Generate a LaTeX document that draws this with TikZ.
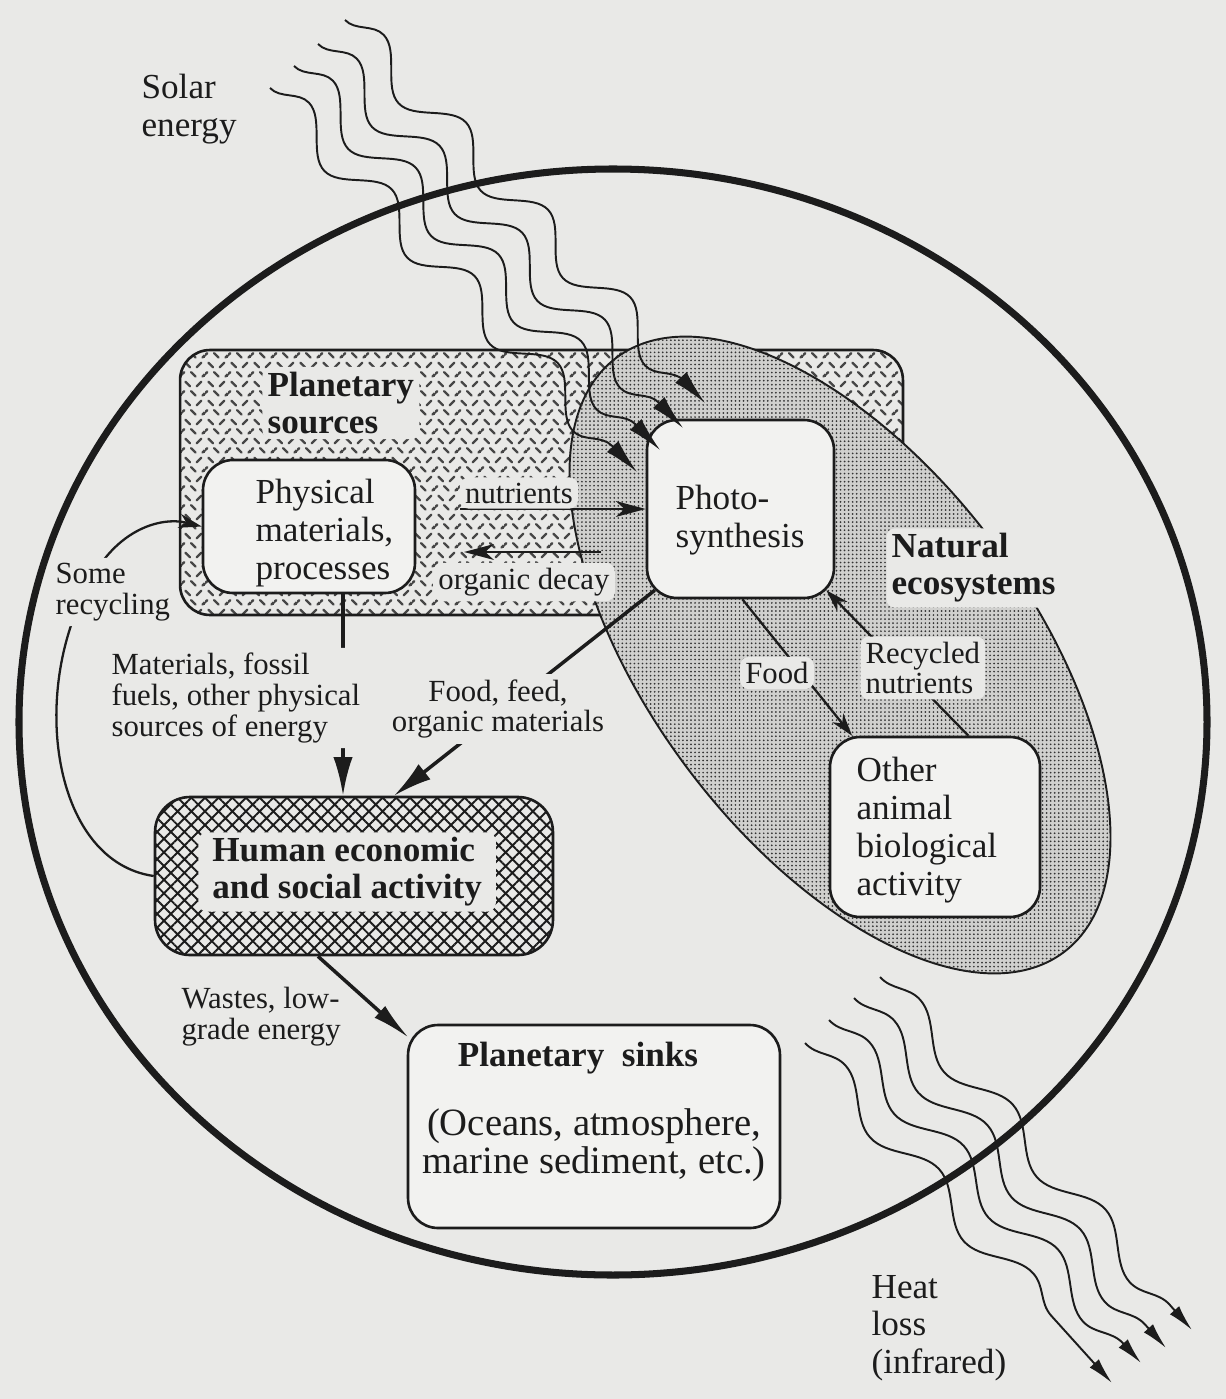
\documentclass[tikz,border=0pt]{standalone}
\usepackage{fontspec}
\setmainfont{Liberation Serif}
\usetikzlibrary{arrows.meta,decorations.pathmorphing,patterns,patterns.meta,calc}
\definecolor{bg}{RGB}{233,233,231}
\definecolor{boxbg}{RGB}{242,242,240}
\definecolor{ink}{RGB}{28,28,28}
\definecolor{dashcol}{RGB}{70,70,70}
\definecolor{stip}{RGB}{208,208,206}

\tikzdeclarepattern{
  name=plate,
  type=colored,
  bottom left={(0pt,0pt)},
  top right={(13pt,11pt)},
  tile size={(13pt,11pt)},
  code={
    \tikzset{x=1pt,y=1pt}
    \begin{scope}[draw=dashcol,line width=1.35pt,line cap=round]
      % upper row
      \draw (1.95,9.55) -- (4.55,6.95);
      \draw (8.45,6.95) -- (11.05,9.55);
      % lower row, staggered by half a column
      \draw (-1.3,1.45) -- (1.3,4.05);
      \draw (11.7,1.45) -- (14.3,4.05);
      \draw (5.2,4.05) -- (7.8,1.45);
    \end{scope}
  }
}

\begin{document}
\begin{tikzpicture}[x=0.02cm,y=-0.02cm,
  smalltxt/.style={text=ink,font=\fontsize{17.5}{17.5}\selectfont,align=left,inner sep=3pt},
  smallc/.style={smalltxt,align=center},
  bigtxt/.style={text=ink,font=\fontsize{20}{21.5}\selectfont,align=left,inner sep=3pt},
  boldtxt/.style={text=ink,font=\bfseries\fontsize{20}{21}\selectfont,align=left,inner sep=3pt},
  clearbg/.style={fill=bg,rounded corners=5pt},
  wbox/.style={draw=ink,line width=1.5pt,fill=boxbg,rounded corners=0.6cm,inner sep=0pt},
  plbox/.style={draw=ink,line width=1.5pt,pattern=plate,rounded corners=0.6cm,inner sep=0pt},
  hbox/.style={draw=ink,line width=1.5pt,fill=bg,postaction={pattern={Hatch[angle=45,distance=5.5pt,line width=1.1pt]},pattern color=ink},rounded corners=0.7cm,inner sep=0pt},
  ecoreg/.style={draw=ink,line width=1.1pt,fill=stip,postaction={pattern={Dots[distance=2.3pt,radius=0.55pt]},pattern color=black!80}},
  conn/.style={draw=ink,line width=1.3pt},
  thk/.style={draw=ink,line width=2pt},
  bighead/.style={-{Latex[length=22pt,width=11pt]}},
  midhead/.style={-{Stealth[length=17pt,width=9pt,inset=5pt]}},
  smallhead/.style={-{Stealth[length=13pt,width=8pt,inset=4pt]}},
  solwave/.style={draw=ink,line width=1.1pt,decorate,decoration={snake,amplitude=0.36cm,segment length=2.4cm,post length=0.6cm}},
  heatwave/.style={draw=ink,line width=1.1pt,decorate,decoration={snake,amplitude=0.3cm,segment length=2.8cm,post length=0.5cm}}
]
\fill[bg] (0,0) rectangle (1226,1399);
\useasboundingbox (0,0) rectangle (1226,1399);

% planet
\draw[ink,line width=4pt] (613,722) ellipse [x radius=594,y radius=553];

% planetary sources region
\node[plbox,minimum width=14.46cm,minimum height=5.3cm] (plan) at (541.5,482.5) {};
% natural ecosystems region
\path[ecoreg,rotate around={-53:(840,655)}] (840,655) ellipse [x radius=372,y radius=190];

\node[boldtxt,clearbg,anchor=west] (planT) at (262,403) {Planetary\\sources};

% boxes
\node[wbox,minimum width=4.24cm,minimum height=2.66cm] (phys) at (309,526.5) {};
\node[wbox,minimum width=3.74cm,minimum height=3.56cm] (photo) at (740.5,509) {};
\node[wbox,minimum width=4.2cm,minimum height=3.6cm] (other) at (935,827) {};
\node[hbox,minimum width=7.96cm,minimum height=3.16cm] (human) at (354,876) {};
\node[wbox,minimum width=7.44cm,minimum height=4.06cm] (sinks) at (594,1126.5) {};

% connectors
\coordinate (nutS) at (460,509);
\draw[conn,midhead] (nutS) -- (nutS -| photo.west);
\coordinate (decS) at (601,552);
\coordinate (decE) at (464,552);
\draw[conn,midhead] (decS) -- (decE);
\coordinate (matx) at (343,0);
\draw[thk,bighead] (phys.south -| matx) -- (human.north -| matx);
\draw[thk,bighead] ($(photo.south west)+(9,-9)$) -- ($(human.north west)!0.6!(human.north east)$);
\draw[thk,-{Latex[length=22pt,width=9pt]}] ($(human.south west)!0.41!(human.south east)$) -- ($(sinks.north west)+(2,14)$);
\draw[conn,smallhead] ($(photo.south west)!0.51!(photo.south east)$) -- ($(other.north west)!0.11!(other.north east)$);
\draw[conn,smallhead] ($(other.north west)!0.657!(other.north east)$) -- ($(photo.south east)+(-9,-9)$);
\draw[conn,smallhead] (human.west) .. controls (55,862) and (30,700) .. (85,592) .. controls (112,530) and (160,516) .. (phys.west);

% solar energy waves
\coordinate (s1a) at (270,88);  \coordinate (s1b) at (637,472);
\coordinate (s2a) at (294,66);  \coordinate (s2b) at (660,450);
\coordinate (s3a) at (318,44);  \coordinate (s3b) at (683,428);
\coordinate (s4a) at (345,20);  \coordinate (s4b) at (705,403);
\foreach \i in {1,2,3,4}
  \draw[solwave,-{Latex[length=20pt,width=9pt]}] (s\i a) -- (s\i b);

% heat loss waves
\coordinate (h1a) at (880,977);  \coordinate (h1b) at (1192,1330);
\coordinate (h2a) at (854,998);  \coordinate (h2b) at (1166,1348);
\coordinate (h3a) at (829,1020); \coordinate (h3b) at (1141,1363);
\coordinate (h4a) at (805,1043); \coordinate (h4b) at (1112,1383);
\foreach \i in {1,2,3,4}
  \draw[heatwave,-{Latex[length=15pt,width=7pt]}] (h\i a) -- (h\i b);

% labels
\node[bigtxt,anchor=west] (solarT) at (136,109) {Solar\\energy};
\node[bigtxt,anchor=west] (heatT) at (866,1328) {Heat\\loss\\(infrared)};
\node[smalltxt,clearbg] (nutT) at (519,493) {nutrients};
\node[smalltxt,clearbg] (decT) at (524,582) {organic decay};
\node[smalltxt,clearbg,anchor=west] (matT) at (106,698) {Materials, fossil\\fuels, other physical\\sources of energy};
\node[smallc,clearbg] (ffT) at (498,709) {Food, feed,\\organic materials};
\node[smalltxt,clearbg] (foodT) at (777,673) {Food};
\node[smalltxt,clearbg,anchor=west] (recT) at (860,668) {Recycled\\nutrients};
\node[boldtxt,clearbg,anchor=west] (natT) at (886,568) {Natural\\ecosystems};
\node[smalltxt,clearbg,anchor=west] (recyT) at (50,592) {Some\\recycling};
\node[smalltxt,anchor=west] (wasT) at (176,1017) {Wastes, low-\\grade energy};
\node[bigtxt,anchor=west] (physT) at (250,533) {Physical\\materials,\\processes};
\node[bigtxt,anchor=west] (photoT) at (670,520) {Photo-\\synthesis};
\node[bigtxt,anchor=west] (otherT) at (851,830) {Other\\animal\\biological\\activity};
\node[boldtxt,clearbg,anchor=west,inner xsep=8pt] (humanT) at (198,872) {Human economic\\and social activity};
\node[boldtxt] (sinksT) at (578,1058) {Planetary\ \ sinks};
\node[text=ink,font=\fontsize{22}{21.5}\selectfont,align=center] (sinksT2) at (594,1145) {(Oceans, atmosphere,\\marine sediment, etc.)};
\end{tikzpicture}
\end{document}
